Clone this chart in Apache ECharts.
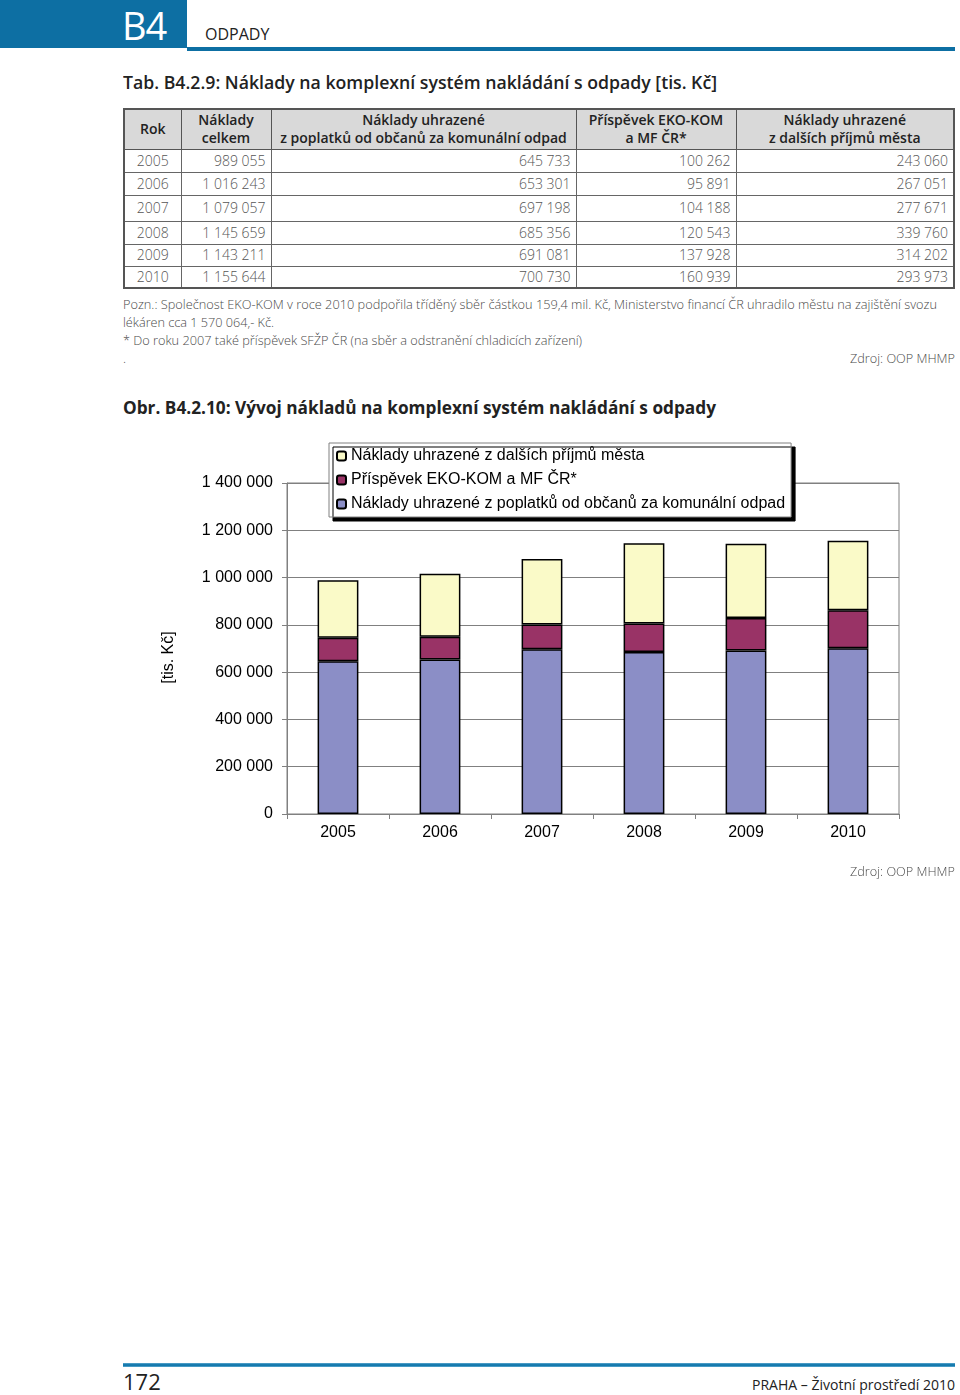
<!DOCTYPE html>
<html lang="cs">
<head>
<meta charset="utf-8">
<script src="https://cdn.jsdelivr.net/npm/echarts@6/dist/echarts.min.js"></script>
<style>
  html, body { margin: 0; padding: 0; background: #fff; }
  body { width: 960px; height: 1395px; position: relative; overflow: hidden; font-family: 'Open Sans', 'Noto Sans', sans-serif; }
  .abs { position: absolute; white-space: nowrap; }
  .fit { transform-origin: 0 50%; display: inline-block; }
  #hdrbox { left: 0; top: 0; width: 187px; height: 48px; background: #0d6fa3; }
  #hdrline { left: 187px; top: 47px; width: 768px; height: 4px; background: #0d6fa3; }
  #b4 { left: 122px; top: 0; height: 48px; line-height: 50px; font-size: 38px; color: #fff; letter-spacing: -1px; }
  #odpady { left: 205px; top: 24px; line-height: 20px; font-size: 16px; color: #222; }
  .title { left: 123px; font-size: 18px; font-weight: 600; color: #222; line-height: 24px; }
  #tab { position: absolute; left: 123px; top: 108px; border-collapse: collapse; table-layout: fixed;
         border: 2px solid #555; font-size: 14px; }
  #tab th { background: #d9d9d9; font-weight: 600; color: #222; line-height: 18px; padding: 1px 4px; border: 1px solid #555; text-align: center; }
  #tab td { font-weight: 300; color: #555; padding: 0 5px; border: 1px solid #666; text-align: right; line-height: 18px; }
  #tab td.c { text-align: center; }
  .note { left: 123px; font-size: 13px; color: #4a4a4a; line-height: 18px; font-weight: 300; }
  .src { font-size: 13px; color: #4a4a4a; line-height: 18px; font-weight: 300; }
  #chart { position: absolute; left: 0; top: 430px; width: 960px; height: 460px; }
  #footline { left: 123px; top: 1363px; width: 832px; height: 4px; background: linear-gradient(#5fa9cf, #1479ad 40%, #1479ad 70%, #6db2d6); }
  #pg { left: 123px; top: 1368px; line-height: 26px; font-size: 22px; color: #222; }
  #praha { top: 1374px; line-height: 20px; font-size: 15px; color: #222; }
</style>
</head>
<body>
<!-- ===== DATA ===== -->
<script>
const years = ['2005', '2006', '2007', '2008', '2009', '2010'];
const nakladyCelkem = [989055, 1016243, 1079057, 1145659, 1143211, 1155644];
const poplatky = [645733, 653301, 697198, 685356, 691081, 700730];
const ekokom = [100262, 95891, 104188, 120543, 137928, 160939];
const dalsiPrijmy = [243060, 267051, 277671, 339760, 314202, 293973];
const yTicks = { min: 0, max: 1400000, interval: 200000 };
const seriesNames = {
  poplatky: 'Náklady uhrazené z poplatků od občanů za komunální odpad',
  ekokom: 'Příspěvek EKO-KOM a MF ČR*',
  dalsi: 'Náklady uhrazené z dalších příjmů města'
};
const tableHeaders = ['Rok', 'Náklady<br>celkem', 'Náklady uhrazené<br>z poplatků od občanů za komunální odpad', 'Příspěvek EKO-KOM<br>a MF ČR*', 'Náklady uhrazené<br>z dalších příjmů města'];
</script>

<div id="hdrbox" class="abs"></div>
<div id="hdrline" class="abs"></div>
<div id="b4" class="abs">B4</div>
<div id="odpady" class="abs">ODPADY</div>

<div class="abs title" style="top:70px"><span class="fit" data-w="594">Tab. B4.2.9: Náklady na komplexní systém nakládání s odpady [tis. Kč]</span></div>

<table id="tab"></table>

<div class="abs note" style="top:295px"><span class="fit" data-w="814">Pozn.: Společnost EKO-KOM v roce 2010 podpořila tříděný sběr částkou 159,4 mil. Kč, Ministerstvo financí ČR uhradilo městu na zajištění svozu</span></div>
<div class="abs note" style="top:313px"><span class="fit" data-w="151">lékáren cca 1 570 064,- Kč.</span></div>
<div class="abs note" style="top:331px"><span class="fit" data-w="459">* Do roku 2007 také příspěvek SFŽP ČR (na sběr a odstranění chladicích zařízení)</span></div>
<div class="abs note" style="top:349px">.</div>
<div class="abs src" style="left:850px;top:349px"><span class="fit" data-w="105">Zdroj: OOP MHMP</span></div>

<div class="abs title" style="top:395px;font-weight:700"><span class="fit" data-w="593">Obr. B4.2.10: Vývoj nákladů na komplexní systém nakládání s odpady</span></div>

<div id="chart"></div>

<div class="abs src" style="left:850px;top:862px"><span class="fit" data-w="105">Zdroj: OOP MHMP</span></div>

<div id="footline" class="abs"></div>
<div id="pg" class="abs">172</div>
<div id="praha" class="abs" style="left:752px"><span class="fit" data-w="203">PRAHA – Životní prostředí 2010</span></div>

<script>
function fmt(n) { return String(n).replace(/\B(?=(\d{3})+(?!\d))/g, ' '); }

// ----- table -----
(function () {
  const colW = [57, 90, 305, 160, 218];
  const rowH = [23, 23, 26, 23, 22, 22];
  const tab = document.getElementById('tab');
  let html = '<colgroup>' + colW.map(w => '<col style="width:' + w + 'px">').join('') + '</colgroup>';
  html += '<tr style="height:40px">' + tableHeaders.map(h => '<th>' + h + '</th>').join('') + '</tr>';
  years.forEach((y, i) => {
    html += '<tr style="height:' + rowH[i] + 'px"><td class="c">' + y + '</td><td>' + fmt(nakladyCelkem[i]) +
      '</td><td>' + fmt(poplatky[i]) + '</td><td>' + fmt(ekokom[i]) + '</td><td>' + fmt(dalsiPrijmy[i]) + '</td></tr>';
  });
  tab.innerHTML = html;
  tab.style.width = colW.reduce((a, b) => a + b, 0) + 'px';
})();

// ----- fit text widths -----
document.querySelectorAll('.fit').forEach(el => {
  const w = el.getBoundingClientRect().width;
  const target = +el.dataset.w;
  if (w > 0) el.style.transform = 'scaleX(' + (target / w) + ')';
});

// ----- chart -----
const FONT = "'Liberation Sans', Arial, sans-serif";
const chart = echarts.init(document.getElementById('chart'), null, { renderer: 'canvas' });
chart.setOption({
  animation: false,
  grid: { left: 287, right: 61, top: 53, bottom: 76, show: true, borderColor: '#808080', borderWidth: 1 },
  legend: {
    orient: 'vertical', left: 329, top: 13,
    data: [seriesNames.dalsi, seriesNames.ekokom, seriesNames.poplatky],
    itemWidth: 9, itemHeight: 9, itemGap: 8,
    padding: [5, 6, 5, 7],
    backgroundColor: '#fff', borderColor: '#808080', borderWidth: 1,
    shadowColor: '#000', shadowBlur: 0, shadowOffsetX: 4, shadowOffsetY: 4,
    selectedMode: false,
    textStyle: { fontFamily: FONT, fontSize: 16, color: '#000', lineHeight: 16 }
  },
  xAxis: {
    type: 'category', data: years,
    axisLine: { lineStyle: { color: '#808080' } },
    axisTick: { show: true, length: 5, lineStyle: { color: '#808080' } },
    axisLabel: { fontFamily: FONT, fontSize: 16, color: '#000', margin: 11 }
  },
  yAxis: {
    type: 'value', min: yTicks.min, max: yTicks.max, interval: yTicks.interval,
    axisLine: { show: true, lineStyle: { color: '#808080' } },
    axisTick: { show: true, length: 5, lineStyle: { color: '#808080' } },
    splitLine: { lineStyle: { color: '#808080', width: 1 } },
    axisLabel: { fontFamily: FONT, fontSize: 16, color: '#000', margin: 14, formatter: fmt },
    name: '[tis. Kč]', nameLocation: 'middle', nameRotate: 90, nameGap: 110,
    nameTextStyle: { fontFamily: FONT, fontSize: 16, color: '#000', padding: [0, 18, 0, 0] }
  },
  series: [
    { name: seriesNames.poplatky, type: 'bar', stack: 's', data: poplatky, barWidth: '40%',
      itemStyle: { color: '#8b8ec6', borderColor: '#000', borderWidth: 1.5 } },
    { name: seriesNames.ekokom, type: 'bar', stack: 's', data: ekokom, barWidth: '40%',
      itemStyle: { color: '#993366', borderColor: '#000', borderWidth: 1.5 } },
    { name: seriesNames.dalsi, type: 'bar', stack: 's', data: dalsiPrijmy, barWidth: '40%',
      itemStyle: { color: '#fafac8', borderColor: '#000', borderWidth: 1.5 } }
  ]
});
</script>
</body>
</html>
